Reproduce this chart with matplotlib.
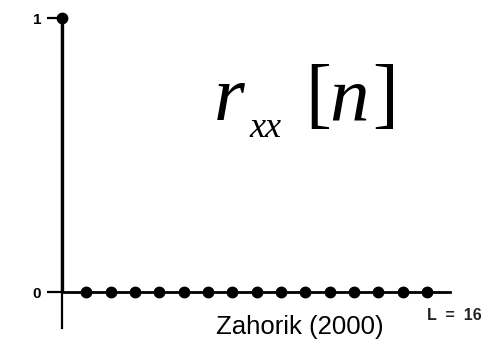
import matplotlib.pyplot as plt

# autocorrelation of a length-16 white sequence
n = list(range(16))
rxx = [1] + [0] * 15
length_label = "L  =  16"
citation = "Zahorik (2000)"

W, H = 498, 345
fig = plt.figure(figsize=(W / 100, H / 100), dpi=100)
ax = fig.add_axes([62 / W, 17 / H, 388 / W, 310 / H])
ax.set_xlim(0, 15.95)
ax.set_ylim(-0.131, 1.0)

for s in ("top", "right"):
    ax.spines[s].set_visible(False)
ax.spines["bottom"].set_position(("data", 0))
ax.spines["bottom"].set_linewidth(2.0)
ax.spines["left"].set_linewidth(1.6)

# stems and dots
ax.vlines(n, 0, rxx, color="black", lw=2.4, clip_on=False)
ax.plot(n, rxx, "o", color="black", ms=7.5, clip_on=False, zorder=5)

ax.set_xticks([])
ax.set_yticks([0, 1])
ax.set_yticklabels(["0", "1"], fontfamily="Liberation Sans", fontweight="bold", fontsize=11)
ax.tick_params(axis="y", direction="out", length=11, width=1.6, pad=4)

fig.text(427 / W, 1 - 320 / H, length_label, fontfamily="Liberation Sans",
         fontweight="bold", fontsize=11.5, color="#222222", va="baseline")
fig.text(300 / W, 1 - 334 / H, citation, fontfamily="Liberation Sans",
         fontsize=18.5, ha="center", va="baseline")

# r_xx[n] label built from pieces
serif = "Liberation Serif"
fig.text(214 / W, 1 - 120 / H, "r", fontfamily=serif, style="italic", fontsize=57, va="baseline")
fig.text(249 / W, 1 - 137 / H, "xx", fontfamily=serif, style="italic", fontsize=26, va="baseline")
fig.text(305 / W, 1 - 119 / H, "[", fontfamily=serif, fontsize=56, va="baseline")
fig.text(329 / W, 1 - 120 / H, "n", fontfamily=serif, style="italic", fontsize=57, va="baseline")
fig.text(372 / W, 1 - 119 / H, "]", fontfamily=serif, fontsize=56, va="baseline")

fig.savefig("out.png", dpi=100)
